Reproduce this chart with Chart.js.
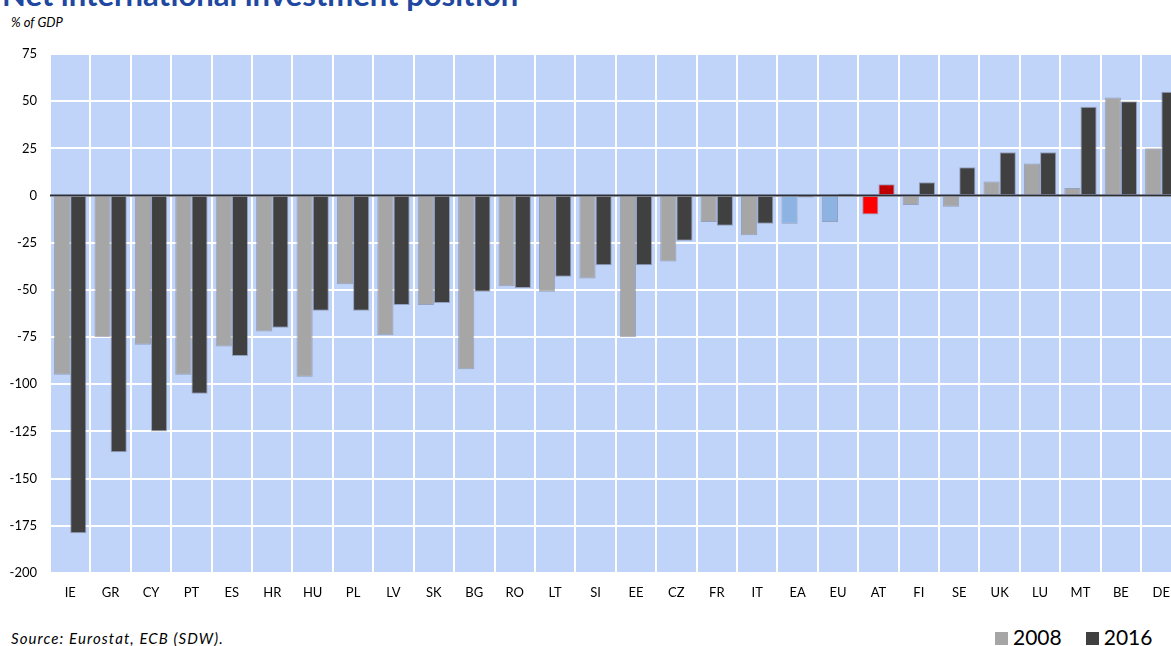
<!DOCTYPE html>
<html>
<head>
<meta charset="utf-8">
<script src="https://cdn.jsdelivr.net/npm/chart.js@4/dist/chart.umd.min.js"></script>
<style>
    html, body { margin: 0; padding: 0; background: #fff; overflow: hidden; width: 1171px; height: 646px; }
    body { position: relative; font-family: Lato, 'DejaVu Sans', sans-serif; }
    .title { position: absolute; left: 2px; top: -21px; font-size: 31px; line-height: 31px; font-weight: bold; color: #2148a0; white-space: nowrap; }
    .unit { position: absolute; left: 11px; top: 14px; font-size: 13px; font-style: italic; color: #000; }
    .chart-wrap { position: absolute; left: 0; top: 0; width: 1182px; height: 612px; }
    .source { position: absolute; left: 11px; top: 629px; font-size: 15px; letter-spacing: 1.1px; font-style: italic; color: #000; }
    .legend { position: absolute; left: 995px; top: 624px; font-size: 21px; color: #000; white-space: nowrap; }
    .legend span.box { display: inline-block; width: 13px; height: 13px; margin-right: 5px; }
    .legend span.item { margin-right: 24px; }
</style>
</head>
<body>
<div class="title">Net international investment position</div>
<div class="unit">% of GDP</div>
<div class="chart-wrap"><canvas id="niipChart"></canvas></div>
<div class="source">Source: Eurostat, ECB (SDW).</div>
<div class="legend">
    <span class="item"><span class="box" style="background:#a6a6a6"></span>2008</span><span><span class="box" style="background:#404040"></span>2016</span>
</div>
<script>
// Data (% of GDP)
const categories = ['IE', 'GR', 'CY', 'PT', 'ES', 'HR', 'HU', 'PL', 'LV', 'SK', 'BG', 'RO', 'LT', 'SI',
    'EE', 'CZ', 'FR', 'IT', 'EA', 'EU', 'AT', 'FI', 'SE', 'UK', 'LU', 'MT', 'BE', 'DE'];
const values2008 = [-95, -75, -79, -95, -80, -72, -96, -47, -74, -58, -92, -48, -51, -44,
    -75, -35, -14, -21, -15, -14, -10, -5, -6, 7.5, 17, 4, 52, 25];
const values2016 = [-179, -136, -125, -105, -85, -70, -61, -61, -58, -57, -51, -49, -43, -37,
    -37, -24, -16, -15, -1, 1, 6, 7, 15, 23, 23, 47, 50, 55];
const yTicks = [75, 50, 25, 0, -25, -50, -75, -100, -125, -150, -175, -200];

// Colour per bar: aggregates in blue, Austria in red
function color2008(cat) {
    if (cat === 'EA' || cat === 'EU') return '#8db3e2';
    if (cat === 'AT') return '#ff0000';
    return '#a6a6a6';
}
function color2016(cat) {
    if (cat === 'AT') return '#c00000';
    return '#404040';
}

// Plot background + zero line on top of bars
const plotDecor = {
    id: 'plotDecor',
    beforeDraw(chart) {
        const { ctx, chartArea } = chart;
        ctx.save();
        ctx.fillStyle = '#c0d3f8';
        ctx.fillRect(chartArea.left, chartArea.top, chartArea.right - chartArea.left, chartArea.bottom - chartArea.top);
        ctx.restore();
    },
    afterDatasetsDraw(chart) {
        const { ctx, chartArea } = chart;
        const y = chart.scales.y.getPixelForValue(0);
        ctx.save();
        ctx.strokeStyle = '#2b2f3a';
        ctx.lineWidth = 2;
        ctx.beginPath();
        ctx.moveTo(chartArea.left, y);
        ctx.lineTo(chartArea.right, y);
        ctx.stroke();
        ctx.restore();
    }
};

new Chart(document.getElementById('niipChart'), {
    type: 'bar',
    data: {
        labels: categories,
        datasets: [
            {
                label: '2008',
                data: values2008,
                backgroundColor: categories.map(color2008),
                borderColor: 'rgba(95, 100, 120, 0.45)',
                borderWidth: 1,
                categoryPercentage: 0.8,
                barPercentage: 1.0
            },
            {
                label: '2016',
                data: values2016,
                backgroundColor: categories.map(color2016),
                borderColor: 'rgba(95, 100, 120, 0.45)',
                borderWidth: 1,
                categoryPercentage: 0.8,
                barPercentage: 1.0
            }
        ]
    },
    options: {
        responsive: true,
        maintainAspectRatio: false,
        animation: false,
        layout: { padding: { top: 54, left: 0, right: 0, bottom: 0 } },
        plugins: {
            legend: { display: false },
            tooltip: { enabled: false }
        },
        scales: {
            x: {
                grid: { color: '#ffffff', lineWidth: 2, drawTicks: false, offset: true },
                border: { display: false },
                ticks: {
                    color: '#000',
                    font: { family: 'Lato', size: 13 },
                    padding: 12,
                    maxRotation: 0,
                    autoSkip: false
                },
                afterFit(scale) { scale.height = 39; }
            },
            y: {
                min: -200,
                max: 75,
                afterBuildTicks(scale) {
                    scale.ticks = yTicks.map(v => ({ value: v }));
                },
                grid: { color: '#ffffff', lineWidth: 2, drawTicks: false },
                border: { display: false },
                ticks: {
                    color: '#000',
                    font: { family: 'Lato', size: 13 },
                    padding: 13
                },
                afterFit(scale) { scale.width = 50; }
            }
        }
    },
    plugins: [plotDecor]
});
</script>
</body>
</html>
